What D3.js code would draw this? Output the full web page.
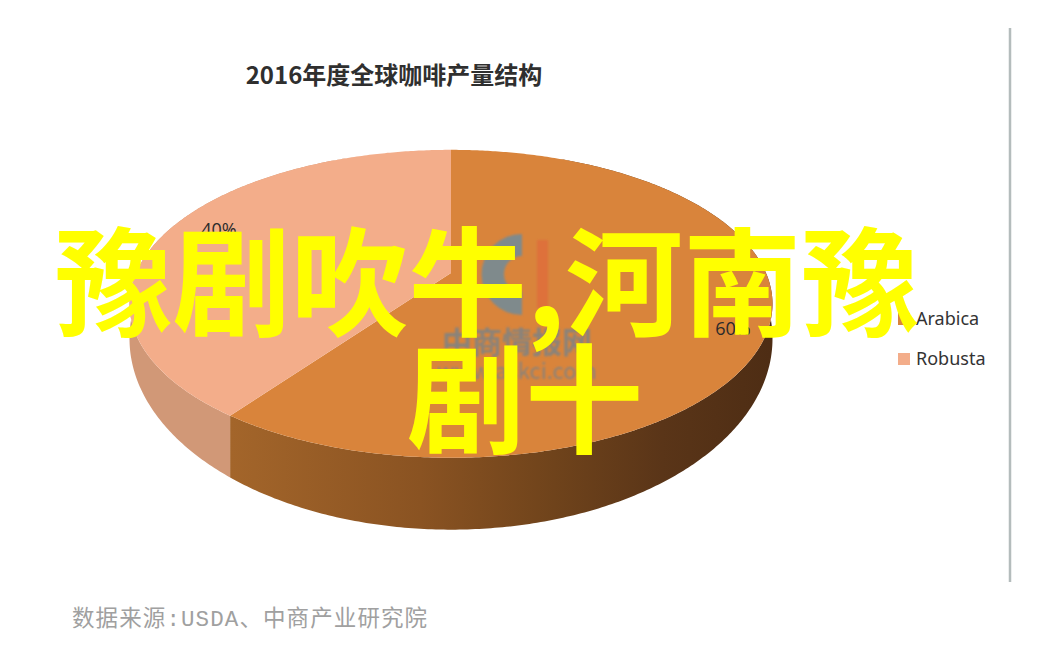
<!DOCTYPE html>
<html>
<head>
<meta charset="utf-8">
<script src="https://cdn.jsdelivr.net/npm/d3@7"></script>
<style>
  html, body { margin: 0; padding: 0; background: #fff; }
  svg { display: block; }
</style>
</head>
<body>
<svg class="chart"></svg>
<script>
const categories = ["Arabica", "Robusta"];
const shares = [60, 40];
const shareLabels = ["60%", "40%"];
const chartTitle = "2016年度全球咖啡产量结构";
const sourceNote = "数据来源:USDA、中商产业研究院";
const overlayLines = ["豫剧吹牛,河南豫", "剧十"];
const watermarkLines = ["中商情报网", "www.askci.com"];

const width = 1052, height = 658;
const cjk = '"Noto Sans CJK SC", "Noto Sans", sans-serif';

const svg = d3.select(".chart").attr("width", width).attr("height", height);
const defs = svg.append("defs");

const wall = defs.append("linearGradient")
    .attr("id", "orangeWall")
    .attr("gradientUnits", "userSpaceOnUse")
    .attr("x1", 232).attr("x2", 770).attr("y1", 0).attr("y2", 0);
[[0, "#a3652a"], [0.35, "#8a5322"], [0.6, "#6f431b"], [0.8, "#5a3518"], [1, "#4e2d14"]].forEach(s => {
    wall.append("stop").attr("offset", s[0]).attr("stop-color", s[1]);
});

defs.append("filter").attr("id", "soft")
    .append("feGaussianBlur").attr("stdDeviation", 1.2);

const topColour = d3.scaleOrdinal().domain(categories).range(["#d9843b", "#f3ad8a"]);
const wallColour = d3.scaleOrdinal().domain(categories).range(["url(#orangeWall)", "#d19877"]);

// the disc is seen in perspective: the near edge is bigger than the far one
const cx = 451, cy = 273, radiusX = 315, radiusY = 147.8, persp = 0.2;
const rimMid = 304, wallDrop = 35, wallStretch = 1.24;
const project = a => {
    const sx = Math.sin(a), sz = Math.cos(a);
    const w = 1 + persp * sz;
    return [cx + radiusX * sx / w, cy - radiusY * sz / w];
};
// the lower outline of the wall is a rounder ellipse than the rim
const lower = p => [p[0], Math.max(p[1], rimMid + wallDrop + (p[1] - rimMid) * wallStretch)];

const slices = d3.pie().sort(null)(shares);
const line = d3.line();
const angles = d => d3.range(d.startAngle, d.endAngle, 0.01).concat(d.endAngle);

const disc = svg.append("g");

disc.selectAll(".side")
    .data(slices)
    .enter().append("path")
    .attr("class", "side")
    .attr("fill", (d, i) => wallColour(categories[i]))
    .attr("d", d => {
        const rim = angles(d).map(project);
        return line(rim.concat(rim.map(lower).reverse())) + "Z";
    });

disc.selectAll(".face")
    .data(slices)
    .enter().append("path")
    .attr("class", "face")
    .attr("fill", (d, i) => topColour(categories[i]))
    .attr("d", d => line([[cx, cy]].concat(angles(d).map(project))) + "Z");

// faded site watermark sitting on the pie
const mark = svg.append("g").attr("filter", "url(#soft)");
mark.append("path")
    .attr("d", "M522,234A40,40 0 0 0 522,315L522,292A18,18 0 0 1 522,256Z")
    .attr("fill", "#7f8a8c");
mark.append("rect")
    .attr("x", 537).attr("y", 240).attr("width", 11).attr("height", 68)
    .attr("fill", "#e06a3a").attr("opacity", 0.7);
mark.selectAll("text")
    .data(watermarkLines)
    .enter().append("text")
    .attr("x", 517)
    .attr("y", (d, i) => i === 0 ? 353 : 379)
    .attr("text-anchor", "middle")
    .attr("font-family", cjk)
    .attr("font-weight", (d, i) => i === 0 ? 700 : 400)
    .attr("font-size", (d, i) => i === 0 ? 30 : 22)
    .attr("fill", "#6f8390")
    .attr("opacity", 0.75)
    .text(d => d);

svg.selectAll(".share")
    .data(shareLabels)
    .enter().append("text")
    .attr("class", "share")
    .attr("x", (d, i) => [733, 219][i])
    .attr("y", (d, i) => [335, 236][i])
    .attr("text-anchor", "middle")
    .attr("font-family", '"Open Sans", sans-serif')
    .attr("font-size", 18)
    .attr("fill", "#2b2b2b")
    .text(d => d);

svg.append("text")
    .attr("x", 394).attr("y", 84)
    .attr("text-anchor", "middle")
    .attr("font-family", cjk)
    .attr("font-weight", 700)
    .attr("font-size", 24)
    .attr("fill", "#2f2f2f")
    .text(chartTitle);

const legendY = d3.scalePoint().domain(categories).range([319, 359]);

svg.selectAll(".swatch")
    .data(categories)
    .enter().append("rect")
    .attr("class", "swatch")
    .attr("x", 898)
    .attr("y", d => legendY(d) - 6)
    .attr("width", 12).attr("height", 12)
    .attr("fill", d => topColour(d));

svg.selectAll(".legend")
    .data(categories)
    .enter().append("text")
    .attr("class", "legend")
    .attr("x", 916)
    .attr("y", d => legendY(d) + 6)
    .attr("font-family", '"Noto Sans", sans-serif')
    .attr("font-size", 18)
    .attr("fill", "#333")
    .text(d => d);

svg.append("line")
    .attr("x1", 1010).attr("x2", 1010)
    .attr("y1", 28).attr("y2", 582)
    .attr("stroke", "#b4bcbc")
    .attr("stroke-width", 2.5);

svg.append("text")
    .attr("x", 72).attr("y", 626)
    .attr("font-family", '"Liberation Mono", "Noto Sans CJK SC", monospace')
    .attr("font-size", 22.5)
    .attr("letter-spacing", 1.1)
    .attr("fill", "#a0a0a0")
    .text(sourceNote);

svg.selectAll(".overlay")
    .data(overlayLines)
    .enter().append("text")
    .attr("class", "overlay")
    .attr("x", (d, i) => [487, 525][i])
    .attr("y", (d, i) => 327 + i * 117)
    .attr("text-anchor", "middle")
    .attr("font-family", cjk)
    .attr("font-weight", 700)
    .attr("font-size", 118)
    .attr("fill", "#ffff00")
    .text(d => d);
</script>
</body>
</html>
